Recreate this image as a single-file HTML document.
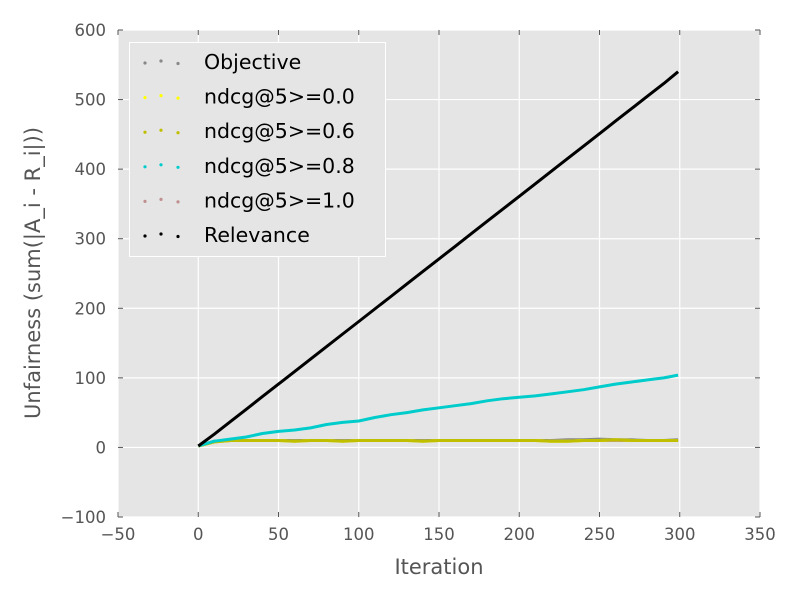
<!DOCTYPE html>
<html><head><meta charset="utf-8"><style>
body{margin:0;background:#fff;}
svg text{font-family:"DejaVu Sans","Liberation Sans",sans-serif;}
</style></head><body>
<svg id="chart" width="800" height="600" xmlns="http://www.w3.org/2000/svg">
<rect x="0" y="0" width="800" height="600" fill="#fff"/>
<rect x="118" y="30" width="642" height="487" fill="#e5e5e5"/>
<g id="grid"></g>
<g id="ticks"></g>
<g id="series"></g>
<text x="439" y="574" font-size="21" fill="#555" text-anchor="middle">Iteration</text>
<text transform="translate(40,273) rotate(-90)" font-size="21" fill="#555" text-anchor="middle">Unfairness (sum(|A_i - R_i|))</text>
<g id="legend"></g>
</svg>
<script>
const iters=[0,10,20,30,40,50,60,70,80,90,100,110,120,130,140,150,160,170,180,190,200,210,220,230,240,250,260,270,280,290,299];
const objective=[2,9,10,10,10,10,10,10,10,10,10,10,10,10,10,10,10,10,10,10,10,10,10,11,11,12,11,11,10,10,11];
const ndcg00=[2,8,10,10,10,10,9,10,10,9,10,10,10,10,9,10,10,10,10,10,10,10,9,9,10,10,11,10,10,10,10];
const ndcg06=[2,8,10,10,10,10,9,10,10,9,10,10,10,10,9,10,10,10,10,10,10,10,9,9,10,10,11,10,10,10,10];
const ndcg08=[2,9,12,15,20,23,25,28,33,36,38,43,47,50,54,57,60,63,67,70,72,74,77,80,83,87,91,94,97,100,104];
const ndcg10=[2,8,10,10,10,10,10,10,10,10,10,10,10,10,10,10,10,10,10,10,10,10,10,10,10,10,10,10,10,10,10];
const relevance=[2,19,37,55,73,91,109,127,145,163,181,199,217,235,253,271,289,307,325,343,361,379,397,415,433,451,469,487,505,523,540];
const xTicks=[-50,0,50,100,150,200,250,300,350];
const yTicks=[-100,0,100,200,300,400,500,600];
const seriesNames=["Objective","ndcg@5>=0.0","ndcg@5>=0.6","ndcg@5>=0.8","ndcg@5>=1.0","Relevance"];
const seriesColors=["#888888","#ffff00","#bfbf00","#00cccc","#c09090","#000000"];
const seriesData=[objective,ndcg00,ndcg06,ndcg08,ndcg10,relevance];
const drawOrder=[4,0,1,2,3,5];
const X=v=>118+(v+50)*642/400, Y=v=>517-(v+100)*487/700;
const NS="http://www.w3.org/2000/svg";
function mk(tag,attrs,parent){const e=document.createElementNS(NS,tag);for(const k in attrs)e.setAttribute(k,attrs[k]);parent.appendChild(e);return e;}
const grid=document.getElementById('grid'),ticks=document.getElementById('ticks');
xTicks.forEach(t=>{
 const l=mk('line',{x1:X(t),x2:X(t),y1:30,y2:517,stroke:'#fff','stroke-width':1.2},grid);
 
 mk('line',{x1:X(t),x2:X(t),y1:517,y2:512,stroke:'#555'},ticks);
 mk('line',{x1:X(t),x2:X(t),y1:30,y2:35,stroke:'#555'},ticks);
 const tx=mk('text',{x:X(t),y:540,'font-size':16.5,fill:'#555','text-anchor':'middle'},ticks);
 tx.textContent=(t<0?'\u2212'+(-t):t);
 
});
yTicks.forEach(t=>{
 const l=mk('line',{x1:118,x2:760,y1:Y(t),y2:Y(t),stroke:'#fff','stroke-width':1.2},grid);
 
 mk('line',{x1:118,x2:123,y1:Y(t),y2:Y(t),stroke:'#555'},ticks);
 mk('line',{x1:755,x2:760,y1:Y(t),y2:Y(t),stroke:'#555'},ticks);
 const tx=mk('text',{x:106,y:Y(t)+6,'font-size':16.5,fill:'#555','text-anchor':'end'},ticks);
 tx.textContent=(t<0?'\u2212'+(-t):t);
 
});
const sg=document.getElementById('series');
drawOrder.forEach(i=>{
 const d=seriesData[i];
 const pts=iters.map((it,j)=>X(it).toFixed(1)+','+Y(d[j]).toFixed(1)).join(' ');
 const p=mk('polyline',{points:pts,fill:'none',stroke:seriesColors[i],'stroke-width':3,'stroke-linejoin':'round'},sg);
 
 
});
const lg=document.getElementById('legend');
const lb=mk('rect',{x:129.5,y:42.5,width:256,height:214,fill:'#e5e5e5',stroke:'#fff','stroke-width':1},lg);

seriesNames.forEach((n,i)=>{
 const y=62+i*34.6;
 const g=mk('g',{},lg);
 
 [[145,1],[161,-1],[178,1.5]].forEach(([x,dy])=>mk('circle',{cx:x,cy:y+dy,r:1.6,fill:seriesColors[i]},g));
 const t=mk('text',{x:204,y:y+7,'font-size':20.5,fill:'#000'},g);
 t.textContent=n;
});
</script>
</body></html>
